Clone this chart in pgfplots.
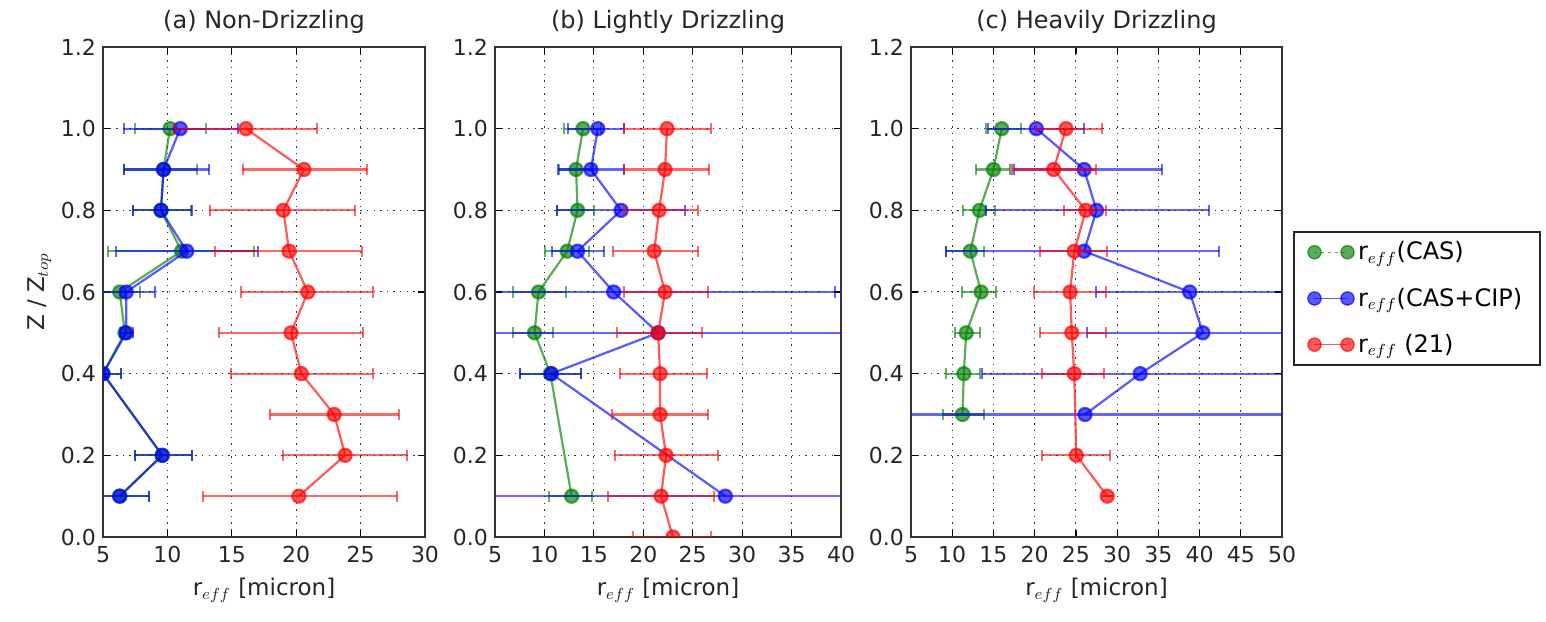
\documentclass[border=0pt]{standalone}
\usepackage{pgfplots}
\pgfplotsset{compat=1.18}
\usepackage{pgfplotstable}
\usepackage{fontspec}
\setmainfont{DejaVu Sans}

\definecolor{mplgreen}{rgb}{0,0.5,0}
\definecolor{mplblue}{rgb}{0,0,1}
\definecolor{mplred}{rgb}{1,0,0}

% ---------- (a) Non-Drizzling ----------
\pgfplotstableread{
y x lo hi
1.0 10.2 7.5 13.0
0.9 9.7 6.6 12.3
0.8 9.5 7.3 11.8
0.7 11.1 5.4 16.7
0.6 6.3 4.5 7.9
0.5 6.7 6.3 7.1
0.4 5.0 4.5 6.4
0.2 9.6 7.5 11.9
0.1 6.3 4.5 8.6
}\aCAS
\pgfplotstableread{
y x lo hi
1.0 11.0 6.6 15.5
0.9 9.7 6.6 13.2
0.8 9.5 7.3 11.9
0.7 11.5 6.0 17.0
0.6 6.8 4.5 9.0
0.5 6.8 6.4 7.3
0.4 5.0 4.0 6.4
0.2 9.6 7.5 11.9
0.1 6.3 4.5 8.6
}\aCIP
\pgfplotstableread{
y x lo hi
1.0 16.1 10.6 21.6
0.9 20.6 15.9 25.5
0.8 19.0 13.3 24.6
0.7 19.45 13.7 25.1
0.6 20.9 15.7 26.0
0.5 19.6 14.0 25.15
0.4 20.4 14.9 26.0
0.3 22.95 18.0 28.0
0.2 23.8 19.0 28.6
0.1 20.2 12.8 27.8
}\aTWO

% ---------- (b) Lightly Drizzling ----------
\pgfplotstableread{
y x lo hi
1.0 13.9 12.0 15.7
0.9 13.2 11.5 14.9
0.8 13.35 11.3 15.0
0.7 12.3 10.1 14.5
0.6 9.4 6.8 12.2
0.5 9.0 6.8 10.9
0.4 10.6 7.5 13.7
0.1 12.75 10.5 14.8
}\bCAS
\pgfplotstableread{
y x lo hi
1.0 15.4 12.4 18.0
0.9 14.7 11.4 18.0
0.8 17.75 11.3 24.2
0.7 13.35 10.8 16.0
0.6 17.0 -5 39.4
0.5 21.5 -5 45
0.4 10.7 7.5 13.7
0.1 28.3 -5 60
}\bCIP
\pgfplotstableread{
y x lo hi
1.0 22.4 18.0 26.8
0.9 22.2 18.0 26.6
0.8 21.6 18.0 25.5
0.7 21.1 16.9 25.5
0.6 22.2 18.0 26.5
0.5 21.5 17.3 25.9
0.4 21.7 17.6 26.4
0.3 21.7 16.8 26.5
0.2 22.3 17.1 27.6
0.1 21.8 16.4 27.2
0.0 23.0 19.0 26.8
}\bTWO

% ---------- (c) Heavily Drizzling ----------
\pgfplotstableread{
y x lo hi
1.0 16.0 14.1 18.3
0.9 15.0 12.9 17.05
0.8 13.3 11.25 15.2
0.7 12.2 9.3 13.8
0.6 13.5 11.2 15.3
0.5 11.7 10.3 13.4
0.4 11.4 9.3 13.4
0.3 11.25 8.86 13.8
}\cCAS
\pgfplotstableread{
y x lo hi
1.0 20.2 14.3 26.0
0.9 26.0 17.5 35.4
0.8 27.5 14.1 41.2
0.7 26.0 9.3 42.4
0.6 38.8 27.4 70
0.5 40.4 26.3 70
0.4 32.8 13.6 70
0.3 26.1 -10 70
}\cCIP
\pgfplotstableread{
y x lo hi
1.0 23.8 20.1 28.2
0.9 22.3 17.2 27.4
0.8 26.2 23.5 28.6
0.7 24.8 20.6 28.8
0.6 24.3 19.9 28.7
0.5 24.5 20.6 28.7
0.4 24.8 20.9 28.4
0.2 25.05 20.9 29.1
0.1 28.8 28.8 28.8
}\cTWO

\pgfplotsset{
  panel/.style={
    scale only axis, height=245pt,
    ymin=0, ymax=1.2, ytick={0,0.2,0.4,0.6,0.8,1.0,1.2},
    yticklabel style={/pgf/number format/fixed, /pgf/number format/fixed zerofill, /pgf/number format/precision=1},
    /pgf/number format/assume math mode=true,
    grid=major, major grid style={black!80, dash pattern=on 0.7pt off 2.6pt, line width=0.5pt},
    tick align=inside, major tick length=3.5pt, tick style={black, line width=0.6pt},
    axis line style={line width=0.9pt, black!80},
    clip marker paths=true,
    tick label style={font=\fontsize{11}{13}\selectfont, text=black!85},
    label style={font=\fontsize{11.5}{13}\selectfont, text=black!85},
    title style={font=\fontsize{12}{14}\selectfont, text=black!85, yshift=-3pt},
    xlabel={r$_{eff}$ [micron]},
    xticklabel style={yshift=-1pt},
    xlabel style={yshift=-1pt},
  },
  ser/.style={color=#1, line width=1.1pt, mark=*, mark size=3.3pt, opacity=0.65,
    error bars/x dir=both, error bars/x explicit,
    error bars/error bar style={line width=1.1pt, #1, opacity=0.6},
    error bars/error mark options={#1, line width=1.0pt, mark size=2.8pt, rotate=90, opacity=0.6}},
}
\newcommand{\ser}[2]{\addplot[ser=#1] table[x=x, y=y, x error plus expr=\thisrow{hi}-\thisrow{x}, x error minus expr=\thisrow{x}-\thisrow{lo}] {#2};}
\newcommand{\serf}[2]{\addplot[ser=#1, forget plot] table[x=x, y=y, x error plus expr=\thisrow{hi}-\thisrow{x}, x error minus expr=\thisrow{x}-\thisrow{lo}] {#2};}

\begin{document}
\begin{tikzpicture}
\path[use as bounding box] (0,0) rectangle (773pt,310.5pt);

\begin{axis}[panel, at={(51.5pt,42pt)}, anchor=south west, width=161pt,
  xmin=5, xmax=30, xtick={5,10,...,30},
  title={(a) Non-Drizzling},
  ylabel={Z / Z$_{top}$}, ylabel style={yshift=-2pt}]
\ser{mplgreen}{\aCAS}
\ser{mplblue}{\aCIP}
\ser{mplred}{\aTWO}
\end{axis}

\begin{axis}[panel, at={(247.5pt,42pt)}, anchor=south west, width=173pt,
  xmin=5, xmax=40, xtick={5,10,...,40},
  title={(b) Lightly Drizzling}]
\ser{mplgreen}{\bCAS}
\ser{mplblue}{\bCIP}
\ser{mplred}{\bTWO}
\end{axis}

\begin{axis}[panel, at={(455.5pt,42pt)}, anchor=south west, width=185.5pt,
  xmin=5, xmax=50, xtick={5,10,...,50},
  title={(c) Heavily Drizzling},
  legend style={at={(1.0296,0.625)}, anchor=north west, draw=black!85, line width=0.9pt,
    font=\fontsize{12}{14}\selectfont, row sep=8.5pt, inner xsep=7pt, inner ysep=3pt,
    legend cell align=left},
  legend image code/.code={\draw[#1] plot coordinates {(0pt,0pt) (16.5pt,0pt)};}]
\serf{mplgreen}{\cCAS}
\serf{mplblue}{\cCIP}
\serf{mplred}{\cTWO}
\addlegendimage{mplgreen, opacity=0.65, line width=0.7pt, dash pattern=on 1.5pt off 2pt, mark=*, mark size=3.3pt, mark options={solid}}
\addlegendentry{r$_{eff}$(CAS)}
\addlegendimage{mplblue, opacity=0.65, line width=0.7pt, mark=*, mark size=3.3pt}
\addlegendentry{r$_{eff}$(CAS+CIP)}
\addlegendimage{mplred, opacity=0.65, line width=0.7pt, mark=*, mark size=3.3pt}
\addlegendentry{r$_{eff}$ (21)}
\end{axis}
\end{tikzpicture}
\end{document}
